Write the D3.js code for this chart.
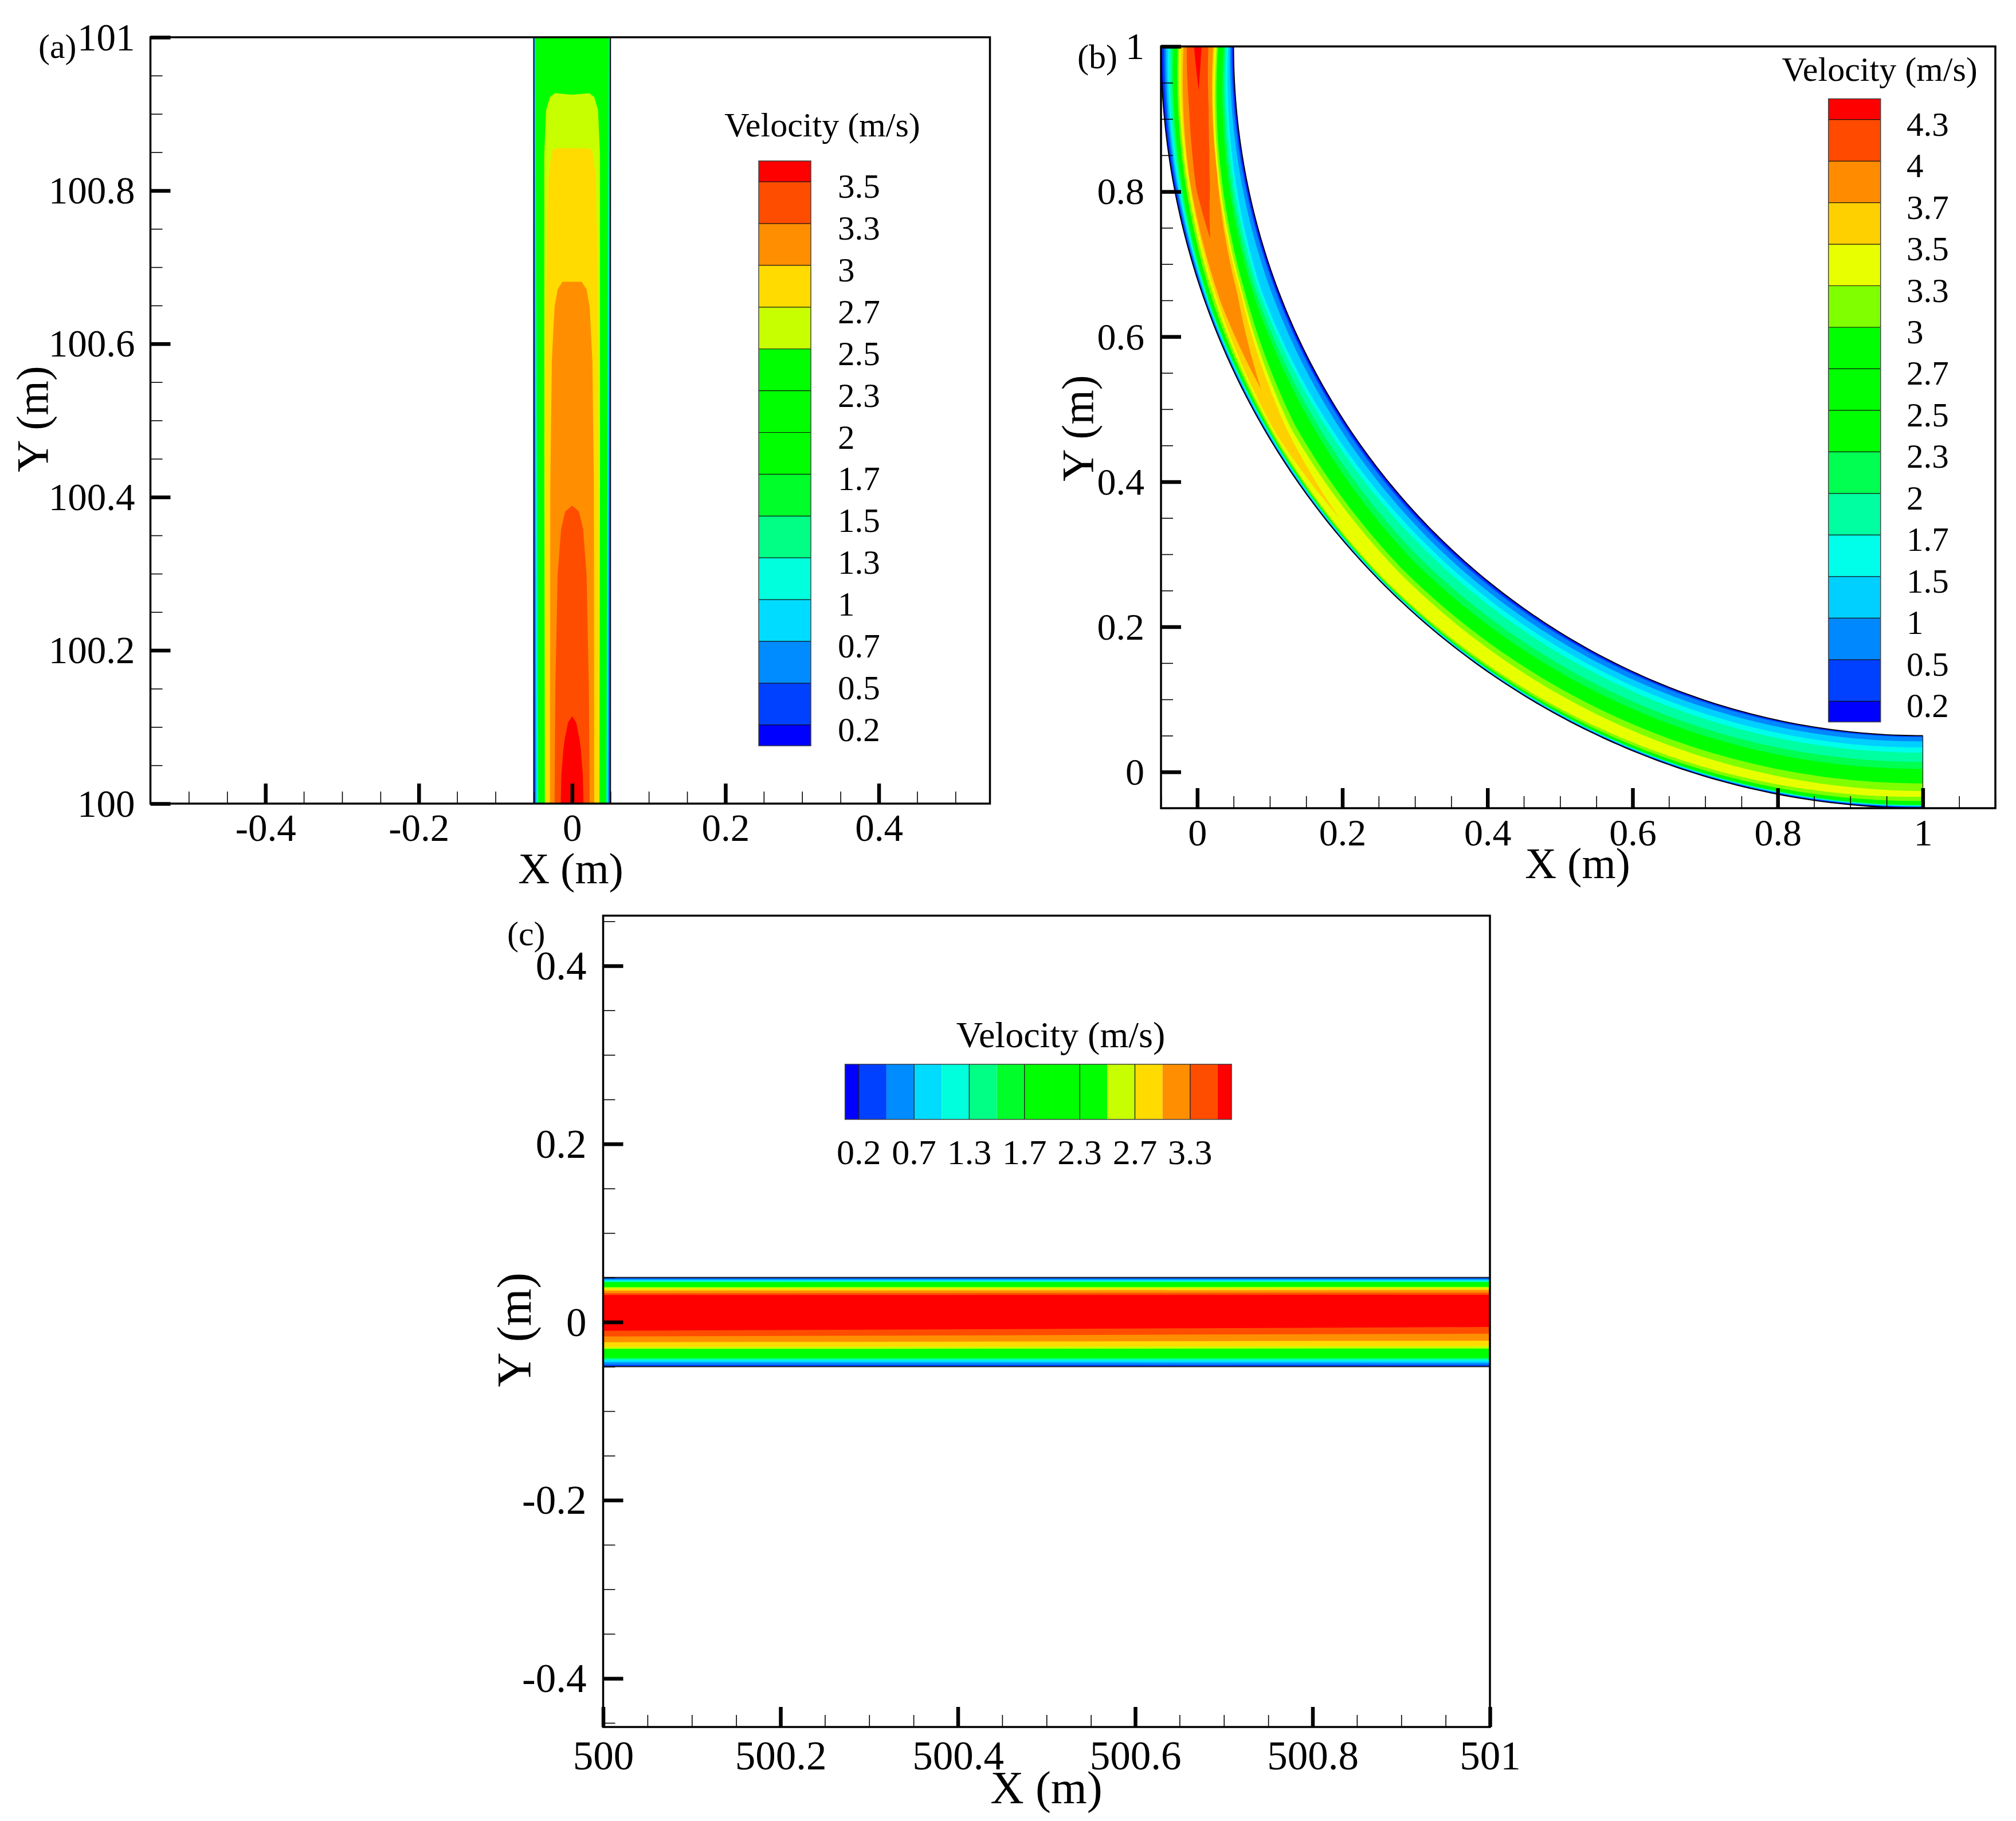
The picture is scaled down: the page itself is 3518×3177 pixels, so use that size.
<!DOCTYPE html>
<html>
<head>
<meta charset="utf-8">
<title>Velocity contours</title>
<script src="https://cdn.jsdelivr.net/npm/d3@7"></script>
<style>
html, body { margin: 0; padding: 0; background: #fff; }
svg { display: block; }
text { font-family: "Liberation Serif", serif; fill: #000; }
</style>
</head>
<body>
<svg id="chart" width="3518" height="3177"></svg>
<script>
// legend bands, low to high
var bandColorsA = ["#0000ff","#0040ff","#008cff","#00dcff","#00ffdc","#00ff84","#00ff2a","#00ff00","#00ff00","#00ff00","#c8ff00","#ffdb00","#ff8f00","#ff4d00","#ff0000"];
var bandColorsB = ["#0000ff","#0040ff","#0088ff","#00d0ff","#00ffea","#00ffa0","#00ff50","#00ff00","#00ff00","#00ff00","#80ff00","#e8ff00","#ffd000","#ff8c00","#ff4a00","#ff0000"];
var legendLabelsA = ["0.2","0.5","0.7","1","1.3","1.5","1.7","2","2.3","2.5","2.7","3","3.3","3.5"];
var legendLabelsB = ["0.2","0.5","1","1.5","1.7","2","2.3","2.5","2.7","3","3.3","3.5","3.7","4","4.3"];
var legendLabelsC = ["0.2","","0.7","","1.3","","1.7","","2.3","","2.7","","3.3",""];

// tick labels
var xTicksA = [-0.4,-0.2,0,0.2,0.4];
var yTicksA = [100,100.2,100.4,100.6,100.8,101];
var xTicksB = [0,0.2,0.4,0.6,0.8,1];
var yTicksB = [0,0.2,0.4,0.6,0.8,1];
var xTicksC = [500,500.2,500.4,500.6,500.8,501];
var yTicksC = [-0.4,-0.2,0,0.2,0.4];

// panel (a): contour half widths near the wall, at y=100 and y=101
var wallLevelsA = [0,1,2,3,4,5,6];
var wallBottomA = [0.0495,0.0482,0.047,0.0458,0.045,0.0445,0.0438];
var wallTopA = [0.0497,0.0493,0.049,0.0486,0.0482,0.0479,0.0476];
// panel (a): [half width, y] along the closed contours
var coreLevelsA = [9,10,11,12,13];
var coreContoursA = [
    [[0.0356,100],[0.0364,100.451],[0.0364,100.845],[0.0339,100.905],[0.0289,100.922],[0.0224,100.927],[0,100.925]],
    [[0.0351,100],[0.0344,100.418],[0.0334,100.685],[0.0309,100.818],[0.0264,100.852],[0.0214,100.855],[0,100.855]],
    [[0.0289,100],[0.0284,100.418],[0.0264,100.578],[0.0229,100.648],[0.0189,100.671],[0.0125,100.681],[0,100.681]],
    [[0.0229,100],[0.0219,100.15],[0.0189,100.298],[0.0144,100.358],[0.009,100.381],[0,100.389]],
    [[0.0149,100],[0.014,100.037],[0.0115,100.07],[0.0095,100.085],[0.0052,100.106],[0,100.114]]
];

// panel (b): offsets from the pipe centreline (outer wall positive) at bend angles in degrees
var bendLevels = [0,1,2,3,4,5,6,9,10,11,12,13,14];
var bendAngles = [
    [0,20,45,90],[0,20,45,90],[0,20,45,90],[0,20,45,90],[0,20,45,90],[0,20,45,90],[0,20,45,90],
    [0,20,31,45,90],[0,20,31,45,90],[0,20,31,39],[0,10,20,27.4],[0,5,8.2,11.1,15.1],[0,1.7,3.5]
];
var bendInner = [
    [-0.049,-0.0481,-0.0481,-0.0495],
    [-0.047,-0.0464,-0.0454,-0.0482],
    [-0.045,-0.0404,-0.0385,-0.0421],
    [-0.0425,-0.0284,-0.0306,-0.0337],
    [-0.04,-0.0248,-0.0241,-0.0266],
    [-0.038,-0.0205,-0.0111,-0.0139],
    [-0.036,-0.0164,-0.0019,-0.0042],
    [-0.0285,-0.0061,0.0105,0.0167,0.0158],
    [-0.0266,-0.0025,0.0175,0.0231,0.0263],
    [-0.024,-0.0001,0.0232,0.034],
    [-0.0219,-0.012,0.0047,0.0272],
    [-0.0153,-0.012,-0.0065,0.0012,0.0174],
    [-0.006,-0.0037,-0.0001]
];
var bendOuter = [
    [0.0482,0.0495,0.0496,0.049],
    [0.0453,0.0486,0.0492,0.048],
    [0.0427,0.0476,0.0488,0.0475],
    [0.04,0.0466,0.0484,0.047],
    [0.0382,0.0459,0.048,0.0465],
    [0.0348,0.0452,0.0476,0.046],
    [0.0329,0.0442,0.047,0.0453],
    [0.0269,0.04,0.044,0.0461,0.04],
    [0.025,0.0366,0.042,0.0444,0.0342],
    [0.0224,0.0332,0.039,0.034],
    [0.019,0.027,0.0299,0.0272],
    [0.0145,0.015,0.0175,0.0205,0.0174],
    [0.0045,0.002,-0.0001]
];

// panel (c): contour heights at x=500 and x=501
var stripLevels = [0,1,2,3,4,5,6,9,10,11,12,13];
var stripTop500 = [0.0499,0.0488,0.0475,0.0464,0.0456,0.0449,0.0445,0.0391,0.0374,0.0353,0.0325,0.0304];
var stripTop501 = [0.0499,0.0488,0.0475,0.0464,0.0456,0.0449,0.0445,0.0395,0.0378,0.0359,0.0331,0.0306];
var stripBottom500 = [-0.0499,-0.0479,-0.0451,-0.043,-0.0419,-0.0408,-0.0397,-0.0301,-0.028,-0.0226,-0.0162,-0.0098];
var stripBottom501 = [-0.0499,-0.0479,-0.0456,-0.0434,-0.0419,-0.0408,-0.0397,-0.0297,-0.0269,-0.0209,-0.013,-0.0055];

var svg = d3.select("#chart");

// minor ticks every 0.05, skipping the labelled ones
function minorTicks(lo, hi, majors){
    var out = [];
    for (var i = Math.ceil(lo*20 - 1e-6); i <= Math.floor(hi*20 + 1e-6); i++){
        var v = i/20;
        if (!majors.some(function(m){ return Math.abs(m-v) < 1e-6; })) out.push(v);
    }
    return out;
}

function drawFrame(g, x, y, xTicks, yTicks, opt){
    var box = [x.range()[0], x.range()[1], y.range()[1], y.range()[0]];

    var xDom = x.domain(), yDom = y.domain();
    var bottom = g.append("g").attr("transform","translate(0,"+box[3]+")");
    var left = g.append("g").attr("transform","translate("+box[0]+",0)");

    //minor ticks first
    bottom.append("g").call(d3.axisBottom(x).tickValues(minorTicks(xDom[0],xDom[1],xTicks)).tickSize(-21).tickFormat(""))
        .call(cleanAxis, 1.6);
    left.append("g").call(d3.axisLeft(y).tickValues(minorTicks(yDom[0],yDom[1],yTicks)).tickSize(-21).tickFormat(""))
        .call(cleanAxis, 1.6);

    var xAxis = bottom.append("g").call(d3.axisBottom(x).tickValues(xTicks).tickSize(-35).tickFormat(String))
        .call(cleanAxis, 6.5);
    xAxis.selectAll("text").attr("y", opt.xLabelDrop).attr("dy", 0)
        .style("font-size", opt.font+"px").style("font-family", "Liberation Serif");

    var yAxis = g.append("g").attr("transform","translate("+box[0]+",0)")
        .call(d3.axisLeft(y).tickValues(yTicks).tickSize(-35).tickFormat(String))
        .call(cleanAxis, 6.5);
    yAxis.selectAll("text").attr("x", -opt.yLabelGap).attr("dy", "0.33em")
        .style("font-size", opt.font+"px").style("font-family", "Liberation Serif");

    g.append("rect")
        .attr("x", box[0]).attr("y", box[2])
        .attr("width", box[1]-box[0]).attr("height", box[3]-box[2])
        .attr("fill", "none").attr("stroke", "#000").attr("stroke-width", 3.5);
}

function cleanAxis(sel, width){
    sel.select(".domain").remove();
    sel.selectAll("line").attr("stroke", "#000").attr("stroke-width", width);
}

function addText(g, str, x, y, size, anchor, rotate){
    var t = g.append("text")
        .attr("x", x).attr("y", y)
        .attr("text-anchor", anchor || "start")
        .style("font-size", size+"px")
        .text(str);
    if (rotate) t.attr("transform", "rotate("+rotate+" "+x+" "+y+")");
    return t;
}

// vertical colour bar; pos maps boundary index to pixel
function drawLegend(g, colors, labels, opt){
    var n = labels.length;
    var pos = d3.scaleLinear().domain([0, n-1]).range(opt.range);
    var a = opt.across;
    colors.forEach(function(c, k){
        var p0 = pos(k === 0 ? -0.5 : k-1), p1 = pos(k === colors.length-1 ? n-0.5 : k);
        var r = g.append("rect").attr("fill", c).attr("stroke", "none");
        if (opt.horizontal){
            r.attr("x", p0).attr("width", p1-p0).attr("y", a[0]).attr("height", a[1]-a[0]);
        } else {
            r.attr("x", a[0]).attr("width", a[1]-a[0]).attr("y", p1).attr("height", p0-p1);
        }
    });
    labels.forEach(function(l, i){
        if (opt.horizontal){
            if (l === "") return;
            g.append("line").attr("x1", pos(i)).attr("x2", pos(i)).attr("y1", a[0]).attr("y2", a[1])
                .attr("stroke", "#222").attr("stroke-width", 1.4);
            addText(g, l, pos(i), opt.labelAt, opt.labelSize, "middle");
        } else {
            g.append("line").attr("x1", a[0]).attr("x2", a[1]).attr("y1", pos(i)).attr("y2", pos(i))
                .attr("stroke", "#111").attr("stroke-width", 1.2);
            addText(g, l, opt.labelAt, pos(i)+28, opt.labelSize, "start");
        }
    });
    var lo = pos(-0.5), hi = pos(n-0.5);
    g.append("rect")
        .attr("x", opt.horizontal ? lo : a[0])
        .attr("y", opt.horizontal ? a[0] : hi)
        .attr("width", opt.horizontal ? hi-lo : a[1]-a[0])
        .attr("height", opt.horizontal ? a[1]-a[0] : lo-hi)
        .attr("fill", "none").attr("stroke", "#444").attr("stroke-width", 1.5);
    addText(g, "Velocity (m/s)", opt.titleX, opt.titleY, opt.titleSize, "middle");
}

//------ panel (a)
var gA = svg.append("g");
var xA = d3.scaleLinear().domain([-0.55,0.545]).range([262.5,1727.5]);
var yA = d3.scaleLinear().domain([100,101]).range([1402,65]);
var lineA = d3.line().x(function(d){ return xA(d[0]); }).y(function(d){ return yA(d[1]); });

function mirrored(pts){
    var left = pts.map(function(p){ return [-p[0], p[1]]; });
    var right = pts.slice().reverse();
    return left.concat(right);
}

gA.append("path")
    .attr("d", lineA(mirrored([[0.05,100],[0.05,101]]))+"Z")
    .attr("fill", bandColorsA[0]);
wallLevelsA.forEach(function(lev, i){
    gA.append("path")
        .attr("d", lineA(mirrored([[wallBottomA[i],100],[wallTopA[i],101]]))+"Z")
        .attr("fill", bandColorsA[lev+1]);
});
coreLevelsA.forEach(function(lev, i){
    gA.append("path")
        .attr("d", lineA(mirrored(coreContoursA[i]))+"Z")
        .attr("fill", bandColorsA[lev+1]);
});
[-0.05,0.05].forEach(function(w){
    gA.append("path").attr("d", lineA([[w,100],[w,101]]))
        .attr("stroke", "#111").attr("stroke-width", 2).attr("fill", "none");
});
drawFrame(gA, xA, yA, xTicksA, yTicksA, {font: 67, xLabelDrop: 65, yLabelGap: 27});
addText(gA, "X (m)", 996, 1541, 76, "middle");
addText(gA, "Y (m)", 83, 731, 78, "middle", -90);
addText(gA, "(a)", 67, 101, 60);
drawLegend(gA, bandColorsA, legendLabelsA, {
    range: [1264.7,317.2], across: [1324,1415], labelAt: 1462, labelSize: 59,
    titleX: 1435, titleY: 238, titleSize: 60
});

//------ panel (b)
var gB = svg.append("g");
var xB = d3.scaleLinear().domain([-0.05,1.1]).range([2026,3482]);
var yB = d3.scaleLinear().domain([-0.05,1]).range([1410,81]);
var lineB = d3.line().x(function(d){ return xB(d[0]); }).y(function(d){ return yB(d[1]); });

function bendPoint(theta, s){
    var a = theta*Math.PI/180, r = 1+s;
    return [1-r*Math.cos(a), 1-r*Math.sin(a)];
}
function bendSteps(from, to){
    var out = d3.range(from, to, 0.5);
    out.push(to);
    return out;
}

var bendBody = bendSteps(0,90).map(function(t){ return bendPoint(t,0.05); })
    .concat(bendSteps(0,90).reverse().map(function(t){ return bendPoint(t,-0.05); }));
gB.append("path").attr("d", lineB(bendBody)+"Z").attr("fill", bandColorsB[0]);

bendLevels.forEach(function(lev, i){
    var ang = bendAngles[i];
    var inner = d3.scaleLinear().domain(ang).range(bendInner[i]);
    var outer = d3.scaleLinear().domain(ang).range(bendOuter[i]);
    var steps = bendSteps(0, ang[ang.length-1]);
    var pts = steps.map(function(t){ return bendPoint(t, outer(t)); })
        .concat(steps.slice().reverse().map(function(t){ return bendPoint(t, inner(t)); }));
    gB.append("path").attr("d", lineB(pts)+"Z").attr("fill", bandColorsB[lev+1]);
});
[0.05,-0.05].forEach(function(s){
    var arc = bendSteps(0,90).map(function(t){ return bendPoint(t,s); });
    gB.append("path").attr("d", lineB(arc))
        .attr("fill", "none").attr("stroke", "#000").attr("stroke-width", 1.8);
});
gB.append("path").attr("d", lineB([[1,0.05],[1,-0.05]]))
    .attr("stroke", "#333").attr("stroke-width", 1.5).attr("fill", "none");

drawFrame(gB, xB, yB, xTicksB, yTicksB, {font: 66, xLabelDrop: 65, yLabelGap: 29});
addText(gB, "X (m)", 2753, 1532, 76, "middle");
addText(gB, "Y (m)", 1907, 747, 78, "middle", -90);
addText(gB, "(b)", 1880, 119, 60);
drawLegend(gB, bandColorsB, legendLabelsB, {
    range: [1223.3,208.6], across: [3190.7,3281.7], labelAt: 3327, labelSize: 59,
    titleX: 3280, titleY: 141, titleSize: 60
});

//------ panel (c)
var gC = svg.append("g");
var xC = d3.scaleLinear().domain([500,501]).range([1052.5,2600]);
var yC = d3.scaleLinear().domain([-0.4546,0.4563]).range([3013,1597.5]);
var lineC = d3.line().x(function(d){ return xC(d[0]); }).y(function(d){ return yC(d[1]); });

gC.append("path").attr("d", lineC([[500,0.05],[501,0.05],[501,-0.05],[500,-0.05]])+"Z")
    .attr("fill", bandColorsA[0]);
stripLevels.forEach(function(lev, i){
    var pts = [[500,stripTop500[i]],[501,stripTop501[i]],[501,stripBottom501[i]],[500,stripBottom500[i]]];
    gC.append("path").attr("d", lineC(pts)+"Z").attr("fill", bandColorsA[lev+1]);
});
[0.05,-0.05].forEach(function(w){
    gC.append("path").attr("d", lineC([[500,w],[501,w]]))
        .attr("stroke", "#222").attr("stroke-width", 2).attr("fill", "none");
});
drawFrame(gC, xC, yC, xTicksC, yTicksC, {font: 71, xLabelDrop: 74, yLabelGap: 29});
addText(gC, "X (m)", 1826, 3146, 81, "middle");
addText(gC, "Y (m)", 926, 2320, 84, "middle", -90);
addText(gC, "(c)", 885, 1649, 60);
drawLegend(gC, bandColorsA, legendLabelsC, {
    horizontal: true, range: [1498.7,2125], across: [1856.7,1953], labelAt: 2030.7, labelSize: 62,
    titleX: 1851, titleY: 1827, titleSize: 64
});
</script>
</body>
</html>
